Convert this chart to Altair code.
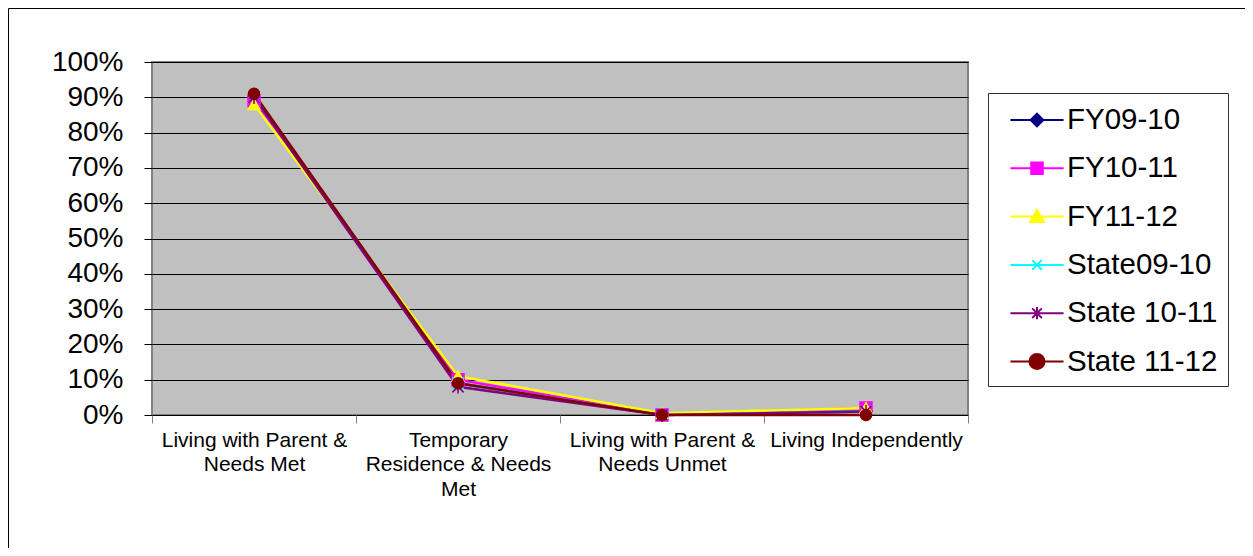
import altair as alt
import pandas as pd

categories = [
    "Living with Parent & Needs Met",
    "Temporary Residence & Needs Met",
    "Living with Parent & Needs Unmet",
    "Living Independently",
]
category_lines = [
    ["Living with Parent &", "Needs Met"],
    ["Temporary", "Residence & Needs", "Met"],
    ["Living with Parent &", "Needs Unmet"],
    ["Living Independently"],
]
series = ["FY09-10", "FY10-11", "FY11-12", "State09-10", "State 10-11", "State 11-12"]
colors = ["#000080", "#FF00FF", "#FFFF00", "#00FFFF", "#800080", "#800000"]

fy0910 = [0.90, 0.09, 0.00, 0.01]
fy1011 = [0.89, 0.10, 0.00, 0.02]
fy1112 = [0.88, 0.11, 0.005, 0.02]
st0910 = [0.90, 0.09, 0.00, 0.01]
st1011 = [0.90, 0.08, 0.00, 0.01]
st1112 = [0.91, 0.09, 0.00, 0.00]
values = [fy0910, fy1011, fy1112, st0910, st1011, st1112]

rows = []
for s_i, s in enumerate(series):
    for c_i, c in enumerate(categories):
        rows.append({"category": c, "series": s, "value": values[s_i][c_i], "order": s_i})
df = pd.DataFrame(rows)

# marker shapes in the plot
x_path = "M-1,-1L1,1M-1,1L1,-1"
ast_path = "M-1,-1L1,1M-1,1L1,-1M0,-1.2L0,1.2"
point_shapes = ["diamond", "square", "triangle-up", x_path, ast_path, "circle"]
point_sizes = [150, 120, 160, 110, 120, 210]

# legend symbols: a line with the marker on it (unit = 16px)
ln = "M-1.66,0L1.66,0"
legend_shapes = [
    ln + "M0,-0.4L0.4,0L0,0.4L-0.4,0Z",
    ln + "M-0.36,-0.36L0.36,-0.36L0.36,0.36L-0.36,0.36Z",
    ln + "M0,-0.42L0.42,0.34L-0.42,0.34Z",
    ln + "M-0.3,-0.3L0.3,0.3M-0.3,0.3L0.3,-0.3",
    ln + "M-0.3,-0.3L0.3,0.3M-0.3,0.3L0.3,-0.3M0,-0.38L0,0.38",
    ln + "M-0.47,0A0.47,0.47,0,1,0,0.47,0A0.47,0.47,0,1,0,-0.47,0Z",
]

label_expr = " : ".join(
    [f"datum.value == '{c}' ? {lines!r}" for c, lines in zip(categories, category_lines)]
) + " : datum.value"

FONT = "Liberation Sans"

x_enc = alt.X(
    "category:N",
    sort=categories,
    scale=alt.Scale(type="band", domain=categories, paddingInner=0, paddingOuter=0),
    axis=alt.Axis(
        title=None, labelAngle=0, labelExpr=label_expr, labelFontSize=21, labelFont=FONT,
        labelColor="black", labelLineHeight=24.5, tickBand="extent", tickColor="#808080",
        tickSize=8, domain=False, grid=False, labelPadding=6, labelBaseline="top",
        labelLimit=400, labelOverlap=False,
    ),
)
y_enc = alt.Y(
    "value:Q",
    scale=alt.Scale(domain=[0, 1], nice=False),
    axis=alt.Axis(
        title=None, format=".0%", values=[i / 10 for i in range(11)], labelFontSize=28,
        labelFont=FONT, labelColor="black", tickColor="black", tickSize=8, domain=False,
        grid=True, gridColor="black", gridWidth=1, labelPadding=21,
    ),
)
color_scale = alt.Scale(domain=series, range=colors)

lines = alt.Chart(df).mark_line(strokeWidth=2.5).encode(
    x=x_enc, y=y_enc,
    color=alt.Color("series:N", scale=color_scale, legend=None),
    order="order:Q",
    detail="series:N",
)

points = alt.Chart(df).mark_point(filled=True, opacity=1, strokeWidth=1.5).encode(
    x=x_enc, y=y_enc,
    fill=alt.Fill("series:N", scale=color_scale, legend=None),
    stroke=alt.Stroke("series:N", scale=color_scale, legend=None),
    shape=alt.Shape("series:N", scale=alt.Scale(domain=series, range=point_shapes), legend=None),
    size=alt.Size("series:N", scale=alt.Scale(domain=series, range=point_sizes), legend=None),
    order="order:Q",
)

legend_layer = alt.Chart(df).transform_filter("false").mark_point(
    filled=True, opacity=1, strokeWidth=2
).encode(
    x=x_enc, y=y_enc,
    fill=alt.Fill("series:N", scale=color_scale, title=None),
    stroke=alt.Stroke("series:N", scale=color_scale, title=None),
    shape=alt.Shape("series:N", scale=alt.Scale(domain=series, range=legend_shapes), title=None,
                    legend=alt.Legend(
                        orient="none", legendX=836, legendY=31, title=None,
                        labelFontSize=29.5, labelFont=FONT, labelColor="black",
                        symbolSize=1024, symbolStrokeWidth=2, labelOffset=13,
                        symbolOffset=22,
                        strokeColor="#333333", padding=10, rowPadding=16.3,
                        symbolOpacity=1,
                    )),
)

frame = alt.Chart(pd.DataFrame({"a": [0]})).mark_rect(
    fill=None, stroke="#000000", strokeWidth=1
).encode(
    x=alt.value(-143.5), x2=alt.value(1300), y=alt.value(-53.5), y2=alt.value(700)
)

chart = alt.layer(frame, lines, points, legend_layer).resolve_scale(
    shape="independent", size="independent"
).resolve_legend(
    color="independent", fill="independent", stroke="independent",
    shape="independent", size="independent"
).properties(
    width=816, height=353,
    padding={"left": 144, "top": 54, "right": 277, "bottom": 133},
    autosize=alt.AutoSizeParams(type="none"),
    background="white",
).configure_view(
    fill="#C0C0C0", stroke="#808080", strokeWidth=2
)

chart.save("out.html", embed_options={"renderer": "svg", "actions": False})
